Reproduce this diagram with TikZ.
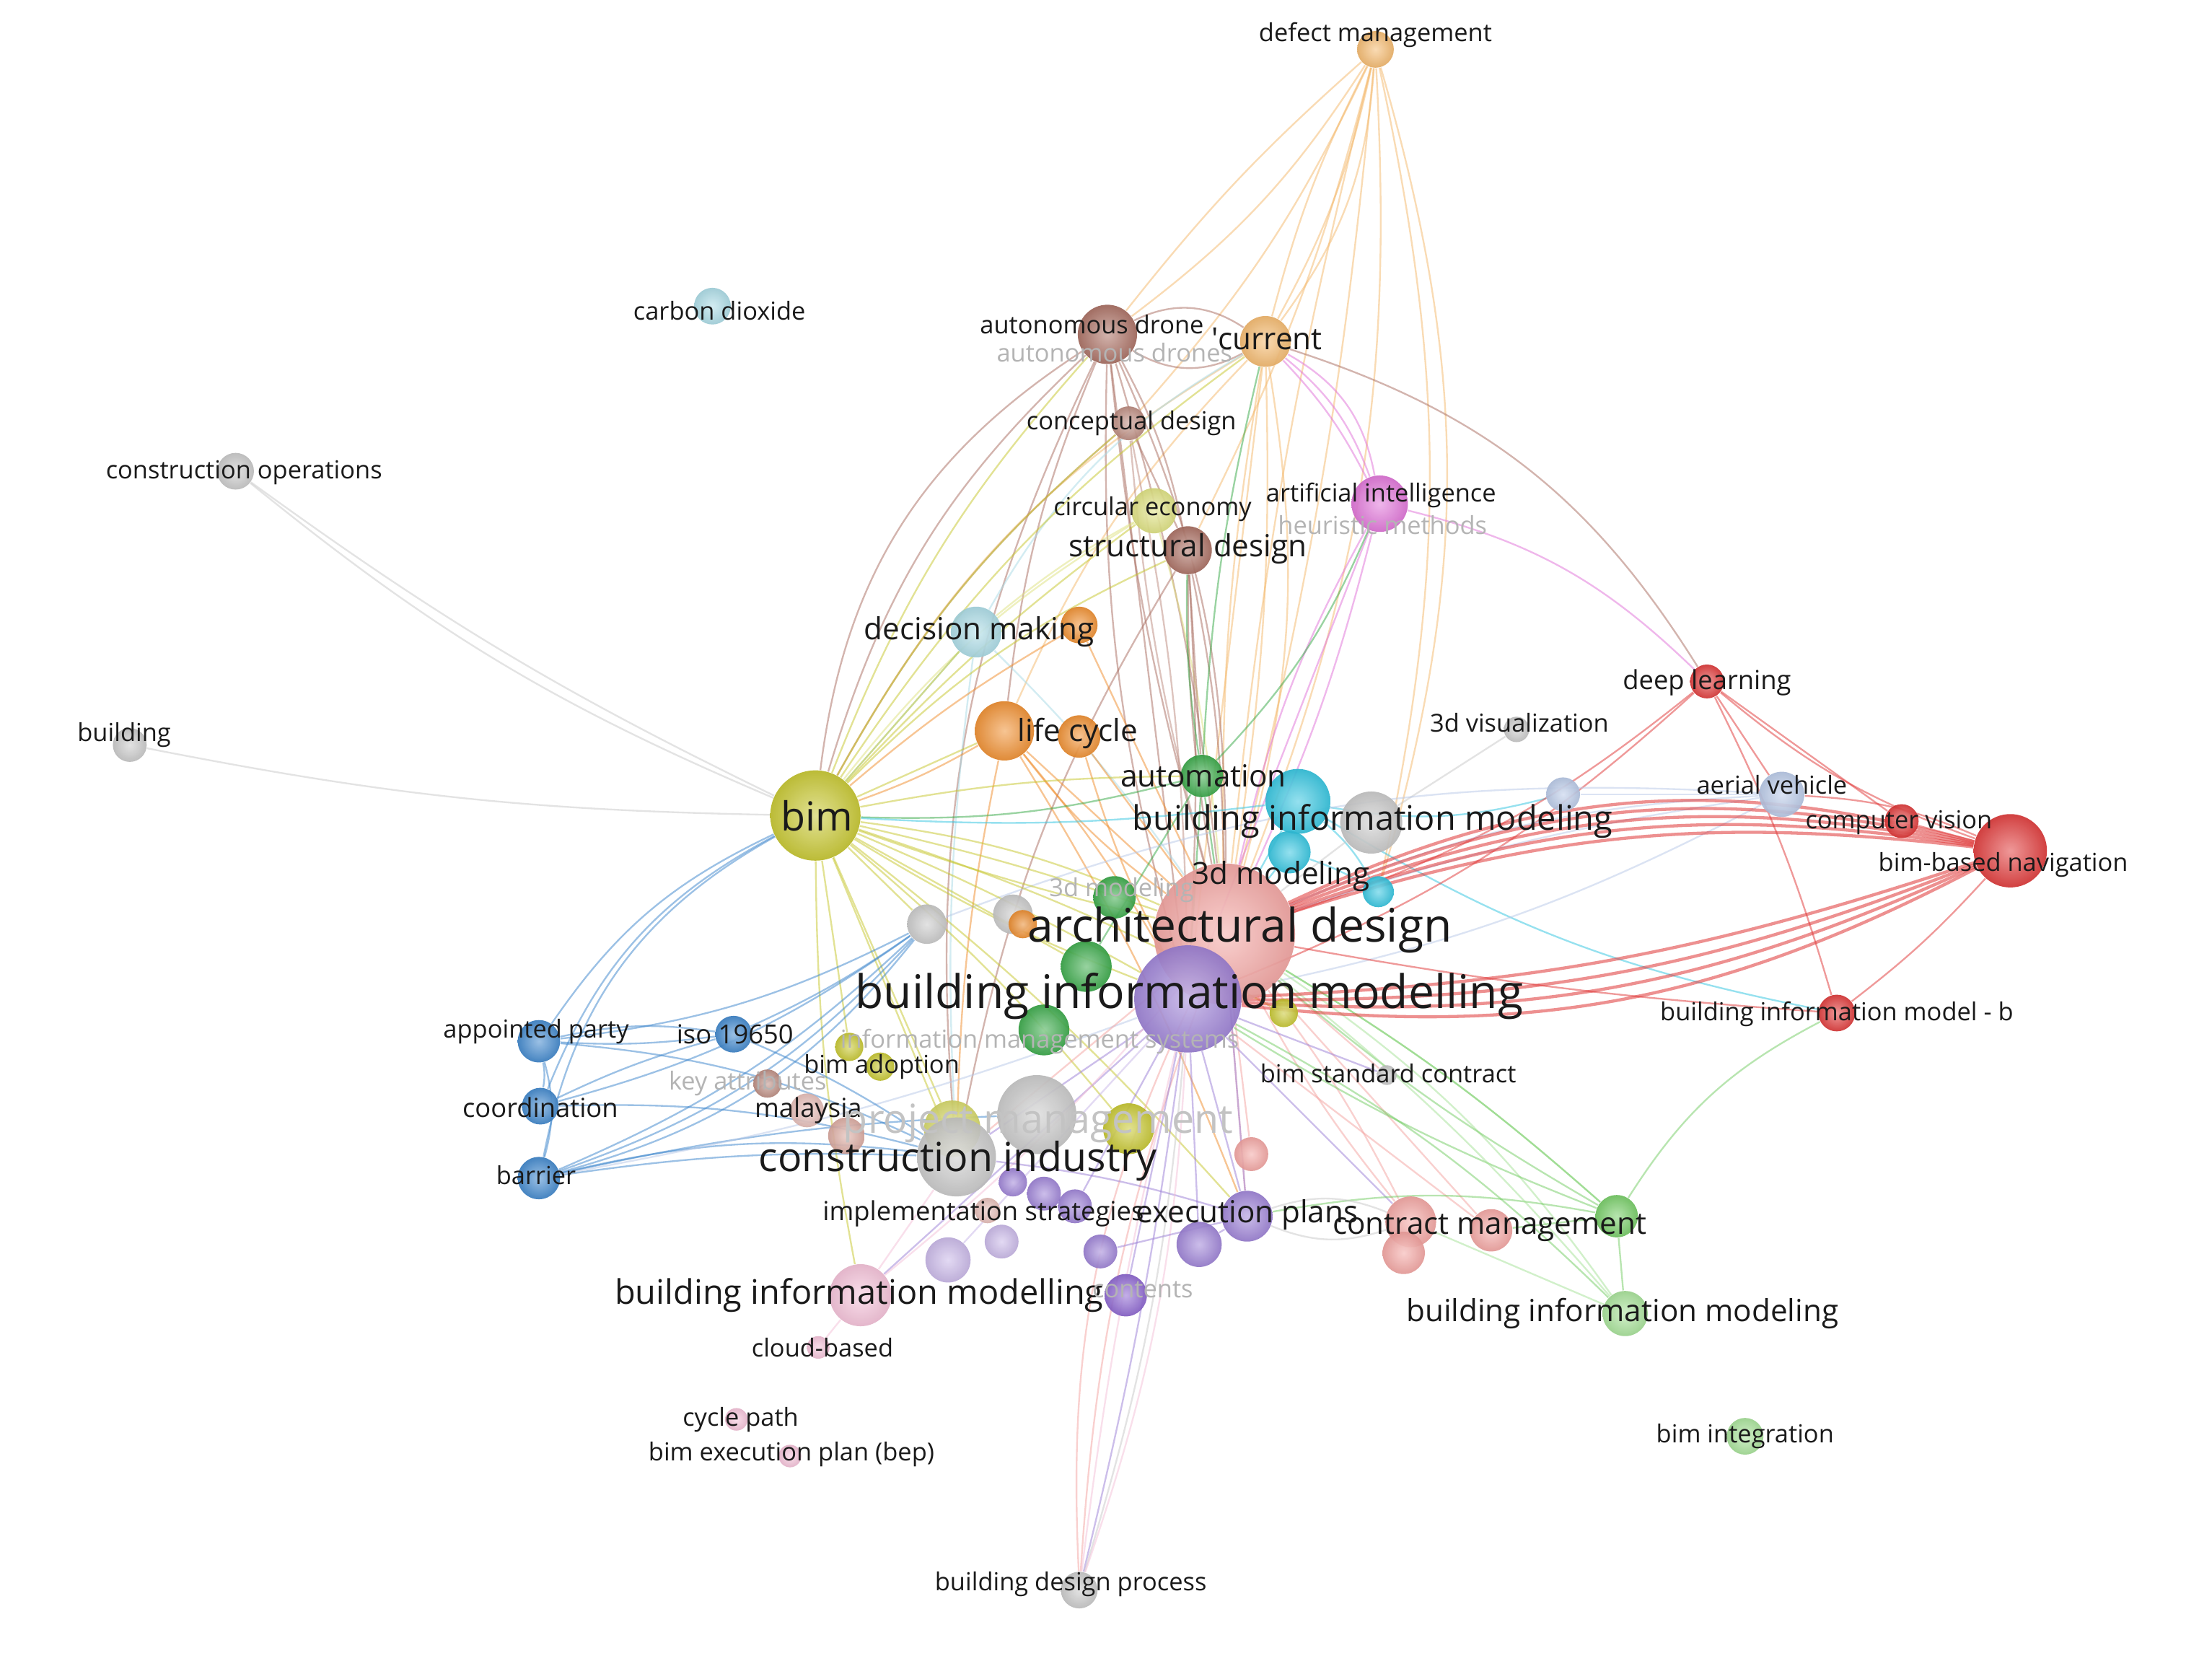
\documentclass[tikz,border=0pt]{standalone}
\usepackage{fontspec}
\setmainfont{Open Sans}
\pgfdeclarelayer{bg}
\pgfdeclarelayer{edges}
\pgfdeclarelayer{labels}
\pgfsetlayers{bg,edges,main,labels}
\definecolor{cOrL}{HTML}{F5B86A}
\definecolor{cOr}{HTML}{F08C2A}
\definecolor{cBr}{HTML}{A86B5E}
\definecolor{cBrL}{HTML}{BC8A7E}
\definecolor{cYl}{HTML}{DFE27E}
\definecolor{cYl2}{HTML}{D6D866}
\definecolor{cOl}{HTML}{C6C62A}
\definecolor{cMg}{HTML}{E070D8}
\definecolor{cLB}{HTML}{A9DBE6}
\definecolor{cGr}{HTML}{35A845}
\definecolor{cCy}{HTML}{2EC4E0}
\definecolor{cRd}{HTML}{E03535}
\definecolor{cSa}{HTML}{F4A3A0}
\definecolor{cPu}{HTML}{9B7FD6}
\definecolor{cPuD}{HTML}{8A62D0}
\definecolor{cPuL}{HTML}{C8B6E8}
\definecolor{cBl}{HTML}{3A84CC}
\definecolor{cGy}{HTML}{C8C8C8}
\definecolor{cPk}{HTML}{F5C0D8}
\definecolor{cPk2}{HTML}{E6BCB6}
\definecolor{cPk3}{HTML}{DBA89E}
\definecolor{cGr2}{HTML}{72CC62}
\definecolor{cLG}{HTML}{A5E296}
\definecolor{cBG}{HTML}{B8C9E8}
\definecolor{cTx}{HTML}{1A1A1A}
\definecolor{cFd}{HTML}{B4B4B4}
\tikzset{
  ball/.style={circle, inner sep=0pt, shading=radial, inner color=#1!55!white, outer color=#1!92!black, fill opacity=0.92},
  edge/.style={draw=#1, line width=0.6pt, opacity=0.5},
  thick edge/.style={draw=#1, line width=1.1pt, opacity=0.55},
  labS/.style={inner sep=0pt, text=cTx, font=\fontsize{8.8}{10}\selectfont},
  labS2/.style={inner sep=0pt, text=cTx, font=\fontsize{9.3}{10}\selectfont},
  labM/.style={inner sep=0pt, text=cTx, font=\fontsize{10.8}{12}\selectfont},
  labB/.style={inner sep=0pt, text=cTx, font=\fontsize{12}{14}\selectfont},
  labC/.style={inner sep=0pt, text=cTx, font=\fontsize{14.2}{16}\selectfont},
  labL/.style={inner sep=0pt, text=cTx, font=\fontsize{16.4}{18}\selectfont},
  fadeS/.style={labS, text=cFd},
  fadeC/.style={labC, text=cFd!80!white},
}
\newcommand{\ballnode}[5]{\node[ball=#5, minimum size=#4pt] (#1) at (#2,#3) {};}
\newcommand{\labnode}[5]{\node[#4] (#1) at (#2,#3) {#5};}
\begin{document}
\begin{tikzpicture}[x=0.5pt,y=-0.5pt]
\begin{pgfonlayer}{bg}
\fill[white] (0,0) rectangle (1568,1177);
\end{pgfonlayer}
\useasboundingbox (0,0) rectangle (1568,1177);
% balls
\ballnode{dm}{975}{35}{13}{cOrL}
\ballnode{co2}{505}{217}{13}{cLB}
\ballnode{cops}{167}{334}{13}{cGy}
\ballnode{bldg}{92}{528}{12}{cGy}
\ballnode{ad}{785}{237}{21}{cBr}
\ballnode{cur}{897}{242}{18}{cOrL}
\ballnode{cd}{800}{300}{12}{cBrL}
\ballnode{ce}{818}{362}{16}{cYl}
\ballnode{ai}{978}{357}{20}{cMg}
\ballnode{sd}{842}{390}{17}{cBr}
\ballnode{dmk}{692}{448}{18}{cLB}
\ballnode{dmo}{765}{443}{13}{cOr}
\ballnode{lc1}{712}{518}{21}{cOr}
\ballnode{lc2}{765}{522}{15}{cOr}
\ballnode{aut}{852}{550}{15}{cGr}
\ballnode{bimc2}{914}{604}{15}{cCy}
\ballnode{bimc}{920}{568}{23}{cCy}
\ballnode{bimg}{972}{583}{22}{cGy}
\ballnode{v3d}{1075}{517}{9}{cGy}
\ballnode{dl}{1210}{483}{12}{cRd}
\ballnode{av}{1263}{563}{16}{cBG}
\ballnode{cv}{1348}{582}{12}{cRd}
\ballnode{bbn}{1425}{603}{26}{cRd}
\ballnode{lbg}{1108}{563}{12}{cBG}
\ballnode{bim}{578}{578}{32}{cOl}
\ballnode{m3c}{977}{632}{11}{cCy}
\ballnode{g3d}{790}{636}{15}{cGr}
\ballnode{gy1}{657}{655}{14}{cGy}
\ballnode{gy2}{718}{648}{14}{cGy}
\ballnode{or1}{725}{655}{10}{cOr}
\ballnode{ard}{868}{662}{50}{cSa}
\ballnode{gr1}{770}{685}{18}{cGr}
\ballnode{bimp}{842}{708}{38}{cPu}
\ballnode{gr2}{740}{730}{18}{cGr}
\ballnode{ye1}{910}{718}{10}{cOl}
\ballnode{bimb}{1302}{718}{13}{cRd}
\ballnode{ap}{382}{738}{15}{cBl}
\ballnode{iso}{520}{733}{13}{cBl}
\ballnode{coord}{383}{784}{13}{cBl}
\ballnode{bar}{382}{835}{15}{cBl}
\ballnode{ba1}{602}{742}{10}{cOl}
\ballnode{ba2}{624}{756}{10}{cOl}
\ballnode{ka}{544}{768}{10}{cBrL}
\ballnode{my1}{572}{787}{12}{cPk2}
\ballnode{my2}{600}{805}{13}{cPk3}
\ballnode{pm1}{735}{790}{28}{cGy}
\ballnode{pmy1}{675}{800}{20}{cYl2}
\ballnode{ci}{678}{820}{28}{cGy}
\ballnode{pmy2}{800}{800}{18}{cOl}
\ballnode{bsc}{983}{762}{7}{cGy}
\ballnode{sa2}{700}{858}{9}{cPk2}
\ballnode{pu1}{718}{838}{10}{cPu}
\ballnode{pu2}{740}{846}{12}{cPu}
\ballnode{pu3}{762}{855}{12}{cPu}
\ballnode{pu4}{710}{880}{12}{cPuL}
\ballnode{pu5}{672}{893}{16}{cPuL}
\ballnode{pu6}{780}{887}{12}{cPu}
\ballnode{pu7}{850}{882}{16}{cPu}
\ballnode{ep}{884}{862}{18}{cPu}
\ballnode{pu8}{798}{918}{15}{cPuD}
\ballnode{sa1}{887}{818}{12}{cSa}
\ballnode{cm1}{1000}{866}{18}{cSa}
\ballnode{cm2}{995}{888}{15}{cSa}
\ballnode{cm3}{1057}{872}{15}{cSa}
\ballnode{lg1}{1146}{862}{15}{cGr2}
\ballnode{bimlg}{1152}{931}{16}{cLG}
\ballnode{bimpk}{610}{918}{22}{cPk}
\ballnode{cb}{580}{955}{8}{cPk}
\ballnode{cyc}{522}{1006}{8}{cPk}
\ballnode{bep}{560}{1032}{8}{cPk}
\ballnode{bint}{1237}{1018}{13}{cLG}
\ballnode{bdp}{765}{1127}{13}{cGy}
% edges
\begin{pgfonlayer}{edges}
\foreach \a/\b/\c/\k in {
 dm/cur/8/cOrL, dm/cur/-6/cOrL, dm/cur/16/cOrL, dm/ad/10/cOrL, dm/ad/-5/cOrL,
 dm/ard/4/cOrL, dm/ard/12/cOrL, dm/sd/6/cOrL, dm/cd/8/cOrL, dm/m3c/12/cOrL, dm/m3c/16/cOrL, dm/ard/-4/cOrL,
 cur/ai/8/cMg, cur/ai/15/cMg, cur/ai/25/cMg, cur/ard/5/cOrL, cur/ard/-5/cOrL, cur/ard/12/cOrL,
 cur/bimp/0/cOrL, cur/lc1/-10/cOrL, cur/bim/-15/cOrL, cur/dl/20/cBr, cur/ad/30/cBr, cur/ad/-30/cBr,
 ad/ard/-5/cBr, ad/ard/5/cBr, ad/ard/12/cBr, ad/bimp/0/cBr, ad/sd/8/cBr, ad/bim/-15/cBr, ad/bim/-25/cBr,
 ad/ci/-15/cBr, ad/lc1/-8/cBr, ad/bimp/-8/cBr,
 cd/sd/0/cBr, cd/ard/-5/cBrL, cd/bim/-10/cBrL, cd/bimp/5/cBrL,
 ce/bim/-10/cYl, ce/ard/5/cYl, ce/dmk/-5/cYl,
 ai/dl/15/cMg, ai/ard/-8/cMg, ai/ard/5/cMg, ai/bimp/0/cMg,
 sd/ard/-5/cBr, sd/ard/5/cBr, sd/bimp/3/cBr, sd/ci/-10/cBr, sd/aut/0/cBr,
 dmk/bim/0/cLB, dmk/ard/5/cLB, dmk/ci/-5/cLB, dmk/cur/15/cLB,
 dmo/ard/0/cOr, dmo/bim/-5/cOr,
 lc1/bim/5/cOr, lc1/ard/-8/cOr, lc1/ard/0/cOr, lc1/bimp/5/cOr, lc1/ci/-5/cOr, lc1/ep/5/cOr,
 lc2/ard/0/cOr, lc2/bimp/-5/cOr,
 aut/bim/8/cGr, aut/ard/0/cGr, aut/sd/5/cGr, aut/ai/-10/cGr, aut/bimp/0/cGr, aut/gr1/0/cGr, aut/cur/5/cGr,
 bimc/ard/0/cCy, bimc/m3c/10/cCy, bimc/lbg/-12/cCy, bimc/bimb/-10/cCy, bimc/bim/5/cCy, bimc2/m3c/5/cCy, bimc2/ard/0/cCy,
 bimg/v3d/0/cGy, bimg/ard/0/cGy,
 dl/cv/0/cRd, dl/bbn/-10/cRd, dl/ard/10/cRd, dl/av/0/cRd, dl/bimb/5/cRd, dl/bimp/10/cRd,
 bbn/bimb/5/cRd, bbn/cv/0/cRd, bbn/av/-10/cRd,
 av/ard/-5/cBG, av/ard/-10/cBG, av/gy1/-12/cBG, av/lbg/0/cBG, av/bimp/8/cBG,
 bim/ard/-3/cOl, bim/ard/3/cOl, bim/ard/8/cOl, bim/bimp/3/cOl, bim/bimp/-5/cOl, bim/ci/0/cOl,
 bim/ap/-15/cBl, bim/coord/-20/cBl, bim/bar/-25/cBl, bim/cops/5/cGy, bim/cops/8/cGy, bim/bldg/5/cGy,
 bim/dmk/0/cOl, bim/lc1/0/cOl, bim/aut/5/cOl, bim/ad/10/cOl, bim/ba1/0/cOl, bim/pmy1/0/cOl, bim/pmy2/5/cOl,
 bim/bimpk/-5/cOl, bim/ep/5/cOl, bim/sd/10/cOl, bim/cur/10/cOl, bim/gr1/0/cOl, bim/gy1/0/cOl, bim/ye1/5/cOl,
 bim/ce/5/cOl, bim/cd/10/cOl,
 ap/iso/-5/cBl, ap/iso/10/cBl, ap/coord/10/cBl, ap/bar/15/cBl, ap/gy1/-10/cBl, ap/ci/10/cBl,
 coord/iso/5/cBl, coord/ci/8/cBl, coord/gy1/-10/cBl,
 bar/ci/5/cBl, bar/ci/10/cBl, bar/gy1/-10/cBl, bar/gy1/-14/cBl, bar/gy1/-18/cBl, bar/pm1/5/cBl, bar/bimp/-5/cBG,
 iso/gy1/-5/cBl, iso/ci/5/cBl,
 ard/cm1/5/cSa, ard/cm1/-5/cSa, ard/cm3/0/cSa, ard/lg1/5/cLG, ard/bimlg/10/cLG, ard/bdp/-8/cSa, ard/bdp/-14/cSa,
 ard/sa1/0/cSa, ard/ep/0/cSa, ard/bsc/0/cSa, ard/bimb/-3/cRd, ard/ci/0/cSa,
 bimp/bdp/3/cPu, bimp/bdp/-3/cPk, bimp/bdp/6/cGy, bimp/cm1/0/cPu, bimp/ep/0/cPu, bimp/ci/0/cPu,
 bimp/pu3/0/cPu, bimp/pu7/0/cPu, bimp/bimpk/0/cPu, bimp/lg1/-5/cGr2, bimp/bimlg/8/cGr2, bimp/bsc/0/cPu, bimp/cm3/0/cSa,
 lg1/bimlg/0/cGr2, lg1/bimb/15/cGr2, lg1/ard/-5/cGr2, lg1/ard/5/cGr2, lg1/cm3/0/cGr2, lg1/ep/-10/cGr2,
 bimlg/cm1/0/cLG, bimlg/ard/-5/cLG,
 bimpk/ci/0/cPk, bimpk/cb/0/cPk, bimpk/ard/-5/cPk,
 ep/ci/-5/cPu, ep/cm1/20/cGy, ep/cm1/-20/cGy, ep/ard/0/cPu, ep/pu7/0/cPu,
 bdp/bimp/-8/cPk, pu8/bimp/0/cPu, pu5/bimp/0/cPuL, pu6/ep/0/cPu}{\draw[edge=\k] (\a) to[bend left=\c] (\b);}
\foreach \c in {-12,-14,-16,-18,-20}{\draw[thick edge=cRd] (bbn) to[bend left=\c] (ard);}
\foreach \c in {8,11,14,17}{\draw[thick edge=cRd] (bbn) to[bend left=\c] (bimp);}
\end{pgfonlayer}
% labels
\begin{pgfonlayer}{labels}
\labnode{t1}{975}{25}{labS}{defect management}
\labnode{t2}{510}{220}{labS}{carbon dioxide}
\labnode{t3}{173}{335}{labS}{construction operations}
\labnode{t4}{88}{521}{labS}{building}
\labnode{t5}{774}{230}{labS}{autonomous drone}
\labnode{t6}{790}{250}{fadeS}{autonomous drones}
\labnode{t7}{898}{240}{labM}{\textquotesingle current}
\labnode{t8}{802}{300}{labS}{conceptual design}
\labnode{t9}{817}{361}{labS}{circular economy}
\labnode{t10}{979}{351}{labS}{artificial intelligence}
\labnode{t11}{980}{372}{fadeS}{heuristic methods}
\labnode{t12}{842}{389}{labM}{structural design}
\labnode{t13}{694}{448}{labM}{decision making}
\labnode{t14}{764}{520}{labM}{life cycle}
\labnode{t15}{853}{550}{labM}{automation}
\labnode{t16}{1077}{512}{labS}{3d visualization}
\labnode{t17}{1210}{484}{labS2}{deep learning}
\labnode{t18}{1256}{556}{labS}{aerial vehicle}
\labnode{t19}{973}{582}{labB}{building information modeling}
\labnode{t20}{1346}{583}{labS}{computer vision}
\labnode{t21}{1420}{613}{labS}{bim-based navigation}
\labnode{t22}{579}{578}{labC}{bim}
\labnode{t23}{795}{631}{fadeS}{3d modeling}
\labnode{t24}{908}{621}{labM}{3d modeling}
\labnode{t25}{879}{659}{labL}{architectural design}
\labnode{t26}{843}{706}{labL}{building information modelling}
\labnode{t27}{1302}{719}{labS}{building information model - b}
\labnode{t28}{380}{731}{labS}{appointed party}
\labnode{t29}{521}{733}{labS2}{iso 19650}
\labnode{t30}{737}{738}{fadeS}{information management systems}
\labnode{t31}{625}{756}{labS}{bim adoption}
\labnode{t32}{530}{768}{fadeS}{key attributes}
\labnode{t33}{984}{761}{labS}{bim standard contract}
\labnode{t34}{383}{785}{labS2}{coordination}
\labnode{t35}{573}{787}{labS2}{malaysia}
\labnode{t36}{736}{796}{fadeC}{project management}
\labnode{t37}{679}{823}{labC}{construction industry}
\labnode{t38}{380}{833}{labS}{barrier}
\labnode{t39}{697}{860}{labS2}{implementation strategies}
\labnode{t40}{884}{861}{labM}{execution plans}
\labnode{t41}{1056}{870}{labM}{contract management}
\labnode{t42}{609}{918}{labB}{building information modelling}
\labnode{t43}{810}{914}{fadeS}{contents}
\labnode{t44}{1150}{931}{labM}{building information modeling}
\labnode{t45}{583}{955}{labS}{cloud-based}
\labnode{t46}{525}{1006}{labS}{cycle path}
\labnode{t47}{561}{1031}{labS}{bim execution plan (bep)}
\labnode{t48}{1237}{1018}{labS}{bim integration}
\labnode{t49}{759}{1123}{labS}{building design process}
\end{pgfonlayer}
\end{tikzpicture}
\end{document}
